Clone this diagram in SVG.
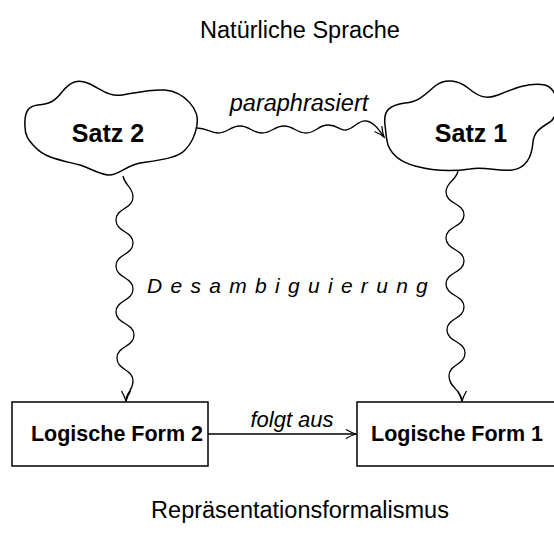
<svg xmlns="http://www.w3.org/2000/svg" width="554" height="544" viewBox="0 0 554 544">
<style>
.shape{fill:#fff;stroke:#000;stroke-width:1.5}
.conn{fill:none;stroke:#000;stroke-width:1.3}
.lbl{font-family:"Liberation Sans",Arial,sans-serif;fill:#000}
.b{font-weight:bold}
.i{font-style:italic}
</style>
<defs>
<marker id="ah" markerWidth="14" markerHeight="12" refX="11" refY="6" orient="auto" markerUnits="userSpaceOnUse">
<path d="M1,1.5 Q6,4.5 11,6 Q6,7.5 1,10.5" fill="none" stroke="#000" stroke-width="1.3"/>
</marker>
</defs>
<rect width="554" height="544" fill="#fff"/>
<text class="lbl" x="300" y="38" font-size="23.5" text-anchor="middle">Natürliche Sprache</text>
<text class="lbl" x="300" y="518" font-size="23.5" text-anchor="middle">Repräsentationsformalismus</text>
<g id="connectors">
<path class="conn" marker-end="url(#ah)" d="M197,128 C207,128 210,133 218,133 C228,133 230,126 240,126 C250,126 252,133 262,133 C272,133 274,126 284,126 C294,126 296,133 306,133 C316,133 318,125 328,125 C338,125 340,131 346,130 C354,129 358,120 366,121 C374,122 379,130 384,137"/>
<path class="conn" marker-end="url(#ah)" d="M123,176 C125,186 133,187 133,197 C133,209 116,208 116,220 C116,232 133,231 133,243 C133,255 116,254 116,266 C116,278 133,277 133,289 C133,301 116,300 116,312 C116,324 134,323 134,335 C134,347 117,346 117,358 C117,370 133,369 133,381 C133,391 126,392 126,401"/>
<path class="conn" marker-end="url(#ah)" d="M458,171 C456,181 446,182 446,192 C446,204 464,203 464,215 C464,227 446,226 446,238 C446,250 464,249 464,261 C464,273 446,272 446,284 C446,296 464,295 464,307 C464,319 447,318 447,330 C447,342 465,341 465,353 C465,365 449,364 449,376 C449,388 462,390 462,401"/>
<path class="conn" marker-end="url(#ah)" d="M208,434 L356,434"/>
<text class="lbl i" x="292" y="427" font-size="22" text-anchor="middle">folgt aus</text>
<text class="lbl i" x="299" y="111" font-size="23.5" text-anchor="middle">paraphrasiert</text>
<text class="lbl i" x="147" y="293" font-size="21" letter-spacing="8.3">Desambiguierung</text>
</g>
<g id="satz2">
<path class="shape" d="M25,127 C24,112 28,106 38,105 C50,104 55,101 62,92 C70,82 78,78 90,84 C102,90 110,97 122,95 C135,93 150,89 165,90 C185,92 200,110 197,125 C195,137 190,145 185,150 C178,158 160,160 140,163 C125,166 118,176 108,175 C98,174 90,168 80,165 C60,160 45,158 35,147 C28,140 25,135 25,127 Z"/>
<text class="lbl b" x="108" y="142" font-size="25" text-anchor="middle">Satz 2</text>
</g>
<g id="satz1">
<path class="shape" d="M385,125 C383,110 390,105 405,103 C418,102 425,95 435,86 C445,78 458,80 468,88 C478,96 485,100 498,95 C515,88 530,82 545,85 C560,90 560,115 550,122 C540,128 534,132 533,142 C532,155 528,168 512,170 C498,172 485,166 470,169 C450,172 430,170 415,166 C400,162 392,155 388,145 C386,138 386,132 385,125 Z"/>
<text class="lbl b" x="471" y="142" font-size="25" text-anchor="middle">Satz 1</text>
</g>
<g id="lf2">
<rect class="shape" x="12" y="402" width="196" height="64"/>
<text class="lbl b" x="117" y="441" font-size="21.5" text-anchor="middle">Logische Form 2</text>
</g>
<g id="lf1">
<rect class="shape" x="357" y="402" width="210" height="64"/>
<text class="lbl b" x="371" y="441" font-size="21.5">Logische Form 1</text>
</g>
</svg>
